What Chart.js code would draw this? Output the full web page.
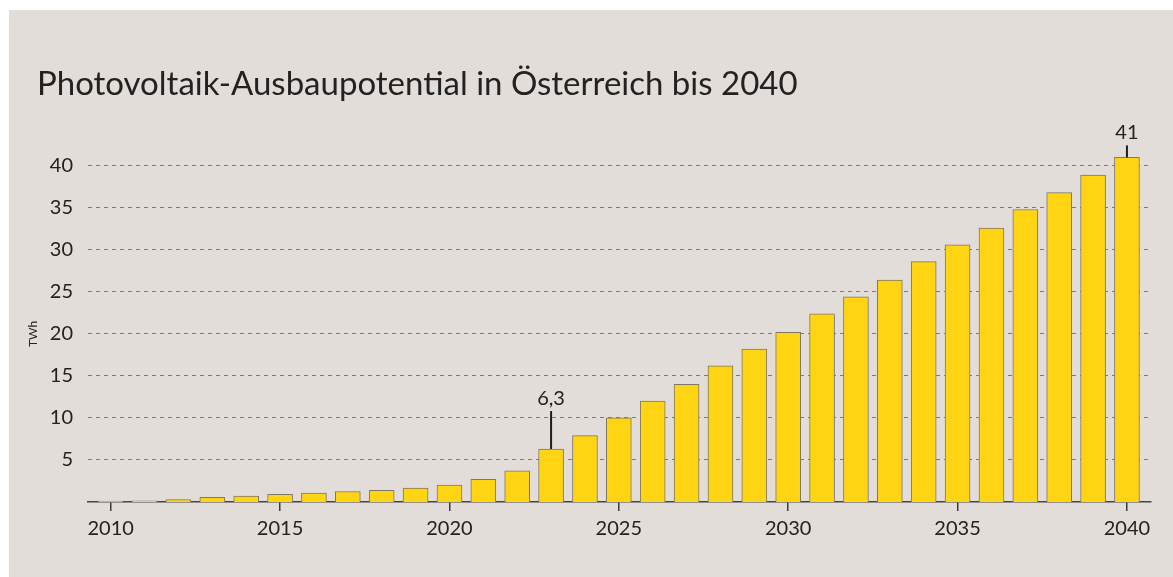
<!DOCTYPE html>
<html lang="de">
<head>
<meta charset="utf-8">
<title>Photovoltaik-Ausbaupotential in Österreich bis 2040</title>
<script src="https://cdn.jsdelivr.net/npm/chart.js@4"></script>
<style>
  html, body { margin: 0; padding: 0; background: #ffffff; }
  #wrap { position: relative; width: 1173px; height: 577px; overflow: hidden; }
  #panel { position: absolute; left: 9px; top: 10px; right: 0; bottom: 0; background: #e2ddd8; }
  #pv { position: absolute; left: 0; top: 0; }
</style>
</head>
<body>
<div id="wrap">
  <div id="panel"></div>
  <canvas id="pv" width="1173" height="577"></canvas>
</div>
<script>
// Jahre und Werte (TWh)
const years = [
  2010, 2011, 2012, 2013, 2014, 2015, 2016, 2017, 2018, 2019, 2020,
  2021, 2022, 2023, 2024, 2025, 2026, 2027, 2028, 2029, 2030,
  2031, 2032, 2033, 2034, 2035, 2036, 2037, 2038, 2039, 2040
];
const twh = [
  0.1, 0.15, 0.3, 0.55, 0.7, 0.9, 1.05, 1.25, 1.4, 1.65, 2.0,
  2.7, 3.7, 6.3, 7.9, 10.0, 12.0, 14.0, 16.2, 18.2, 20.2,
  22.4, 24.4, 26.4, 28.6, 30.6, 32.6, 34.8, 36.8, 38.9, 41.0
];
const yTicks = [5, 10, 15, 20, 25, 30, 35, 40];
const xTicks = [2010, 2015, 2020, 2025, 2030, 2035, 2040];

const titleText = "Photovoltaik-Ausbaupotential in Österreich bis 2040";
const unitText = "TWh";

// Beschriftete Balken
const callouts = [
  { year: 2023, label: "6,3", lift: 38 },
  { year: 2040, label: "41", lift: 12 }
];

const FONT = "Lato, 'Open Sans', sans-serif";
const INK = "#222222";

// Titel, Einheit und Hinweislinien
const extras = {
  id: "extras",
  afterDraw(chart) {
    const { ctx, scales } = chart;
    ctx.save();
    ctx.fillStyle = INK;
    ctx.font = "33px " + FONT;
    ctx.textBaseline = "alphabetic";
    ctx.textAlign = "left";
    ctx.fillText(titleText, 37, 95);

    ctx.save();
    ctx.translate(33, 334);
    ctx.rotate(-Math.PI / 2);
    ctx.font = "12px " + FONT;
    ctx.textAlign = "center";
    ctx.textBaseline = "middle";
    ctx.fillText(unitText, 0, 0);
    ctx.restore();

    callouts.forEach(c => {
      const i = years.indexOf(c.year);
      const x = scales.x.getPixelForValue(c.year);
      const top = scales.y.getPixelForValue(twh[i]);
      ctx.strokeStyle = "#1e1e1e";
      ctx.lineWidth = 2;
      ctx.beginPath();
      ctx.moveTo(x, top);
      ctx.lineTo(x, top - c.lift);
      ctx.stroke();
      ctx.font = "20px " + FONT;
      ctx.textAlign = "center";
      ctx.textBaseline = "alphabetic";
      ctx.fillText(c.label, x, top - c.lift - 6);
    });
    ctx.restore();
  }
};

new Chart(document.getElementById("pv"), {
  type: "bar",
  data: {
    datasets: [{
      data: years.map((y, i) => ({ x: y, y: twh[i] })),
      backgroundColor: "#ffd412",
      borderColor: "#7f7766",
      borderWidth: 1,
      barThickness: 25
    }]
  },
  plugins: [extras],
  options: {
    responsive: false,
    animation: false,
    layout: { padding: { left: 0, right: 22, top: 149, bottom: 0 } },
    plugins: { legend: { display: false }, tooltip: { enabled: false } },
    scales: {
      x: {
        type: "linear",
        offset: false,
        min: 2009.33,
        max: 2040.71,
        afterBuildTicks: s => { s.ticks = xTicks.map(v => ({ value: v })); },
        afterFit: s => { s.height = 75; },
        grid: { offset: false, drawOnChartArea: false, drawTicks: true, tickLength: 9, color: "#3a3a3a", lineWidth: 1.5 },
        border: { display: true, color: "#444444", width: 1.5 },
        ticks: { color: INK, font: { family: FONT, size: 20 }, padding: 6, callback: v => String(v) }
      },
      y: {
        min: 0,
        max: 42,
        afterBuildTicks: s => { s.ticks = yTicks.map(v => ({ value: v })); },
        afterFit: s => { s.width = 88; },
        grid: { drawTicks: false, color: "#7a7a7a", lineWidth: 1 },
        border: { display: false, dash: [4, 4] },
        ticks: { color: INK, font: { family: FONT, size: 20 }, padding: 15 }
      }
    }
  }
});
</script>
</body>
</html>
